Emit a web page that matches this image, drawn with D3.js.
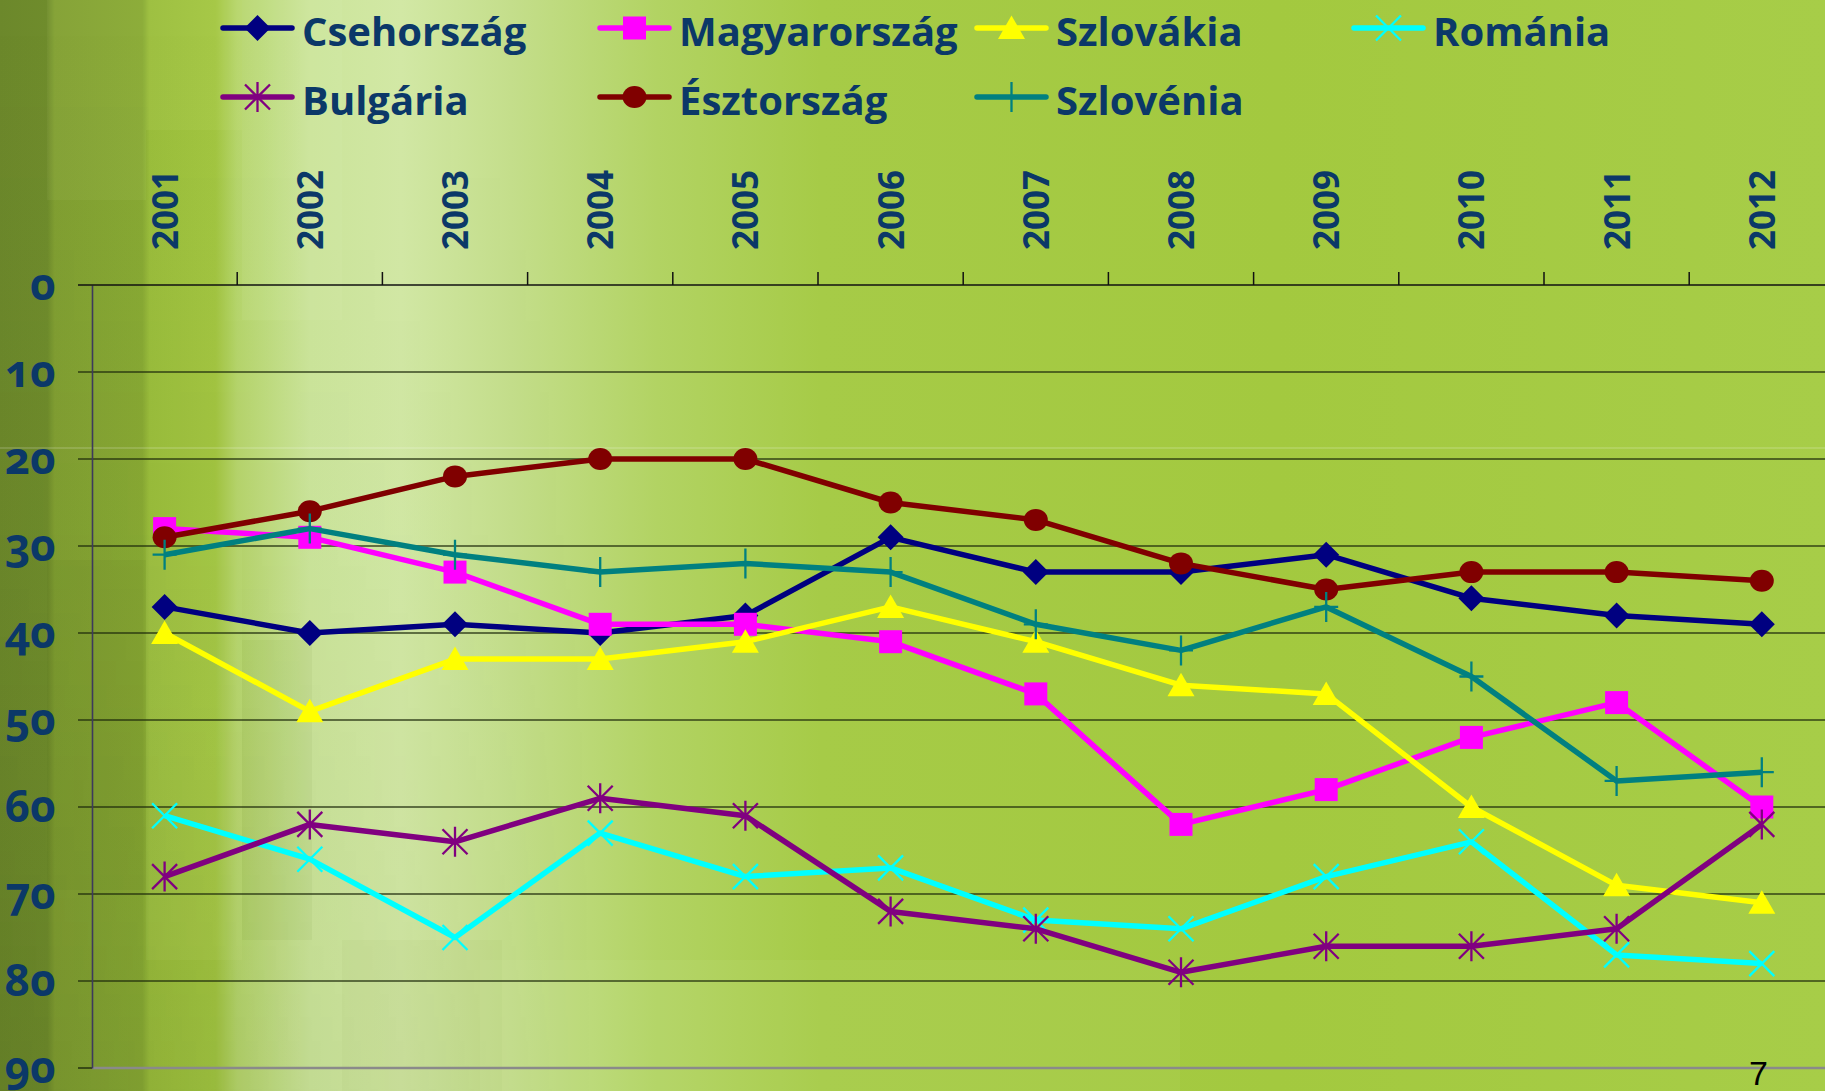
<!DOCTYPE html>
<html>
<head>
<meta charset="utf-8">
<script src="https://cdn.jsdelivr.net/npm/d3@7/dist/d3.min.js"></script>
<style>
  html, body { margin: 0; padding: 0; overflow: hidden; }
  svg { display: block; }
  text { font-family: "Open Sans", "Noto Sans", sans-serif; font-weight: 700; }
  .ylab { font-family: "Noto Sans", "Open Sans", sans-serif; font-variant-numeric: oldstyle-nums; font-feature-settings: "onum" 1; }
  .pagenum { font-family: "Liberation Sans", Arial, sans-serif; font-weight: 400; }
</style>
</head>
<body>
<svg width="1825" height="1091"></svg>
<script>
'use strict';

// categories and ticks
const years = ["2001", "2002", "2003", "2004", "2005", "2006", "2007", "2008", "2009", "2010", "2011", "2012"];
const yTicks = [0, 10, 20, 30, 40, 50, 60, 70, 80, 90];

// series values (rank)
const csehorszag  = [37, 40, 39, 40, 38, 29, 33, 33, 31, 36, 38, 39];
const magyarorszag = [28, 29, 33, 39, 39, 41, 47, 62, 58, 52, 48, 60];
const szlovakia   = [40, 49, 43, 43, 41, 37, 41, 46, 47, 60, 69, 71];
const romania     = [61, 66, 75, 63, 68, 67, 73, 74, 68, 64, 77, 78];
const bulgaria    = [68, 62, 64, 59, 61, 72, 74, 79, 76, 76, 74, 62];
const esztorszag  = [29, 26, 22, 20, 20, 25, 27, 32, 35, 33, 33, 34];
const szlovenia   = [31, 28, 31, 33, 32, 33, 39, 42, 37, 45, 57, 56];

const seriesNames = ["Csehország", "Magyarország", "Szlovákia", "Románia", "Bulgária", "Észtország", "Szlovénia"];
const seriesValues = [csehorszag, magyarorszag, szlovakia, romania, bulgaria, esztorszag, szlovenia];

// styles
const seriesColors = ["#000080", "#ff00ff", "#ffff00", "#00ffff", "#800080", "#800000", "#008080"];
const seriesMarkers = ["diamond", "square", "triangle", "cross", "star", "circle", "plus"];
const textColor = "#0b3868";

class Chart {
  constructor() {
    this.svg = d3.select("svg");
    this.left = 92;
    this.top = 285;
    this.bottom = 1068;
    this.bandW = 145.2;
    this.series = seriesNames.map((name, i) => ({
      name: name,
      color: seriesColors[i],
      marker: seriesMarkers[i],
      values: seriesValues[i].map((v, j) => ({ year: years[j], value: v }))
    }));
  }

  draw() {
    this.drawBackground();
    this.createScales();
    this.drawGrid();
    this.drawAxes();
    this.drawLines();
    this.drawLegend();
    this.drawPageNumber();
  }

  drawBackground() {
    const defs = this.svg.append("defs");
    const g = defs.append("linearGradient").attr("id", "bg").attr("x1", 0).attr("x2", 1).attr("y1", 0).attr("y2", 0);
    [[0, "#6c882b"], [0.026, "#6f8c2c"], [0.03, "#819f32"], [0.078, "#88a934"], [0.082, "#9abd3c"],
     [0.118, "#a2c541"], [0.13, "#b6d56c"], [0.17, "#cce59b"], [0.22, "#d2e8a5"], [0.28, "#c4de8b"],
     [0.36, "#b2d363"], [0.45, "#a6cb47"], [0.7, "#a3c93f"], [1, "#a7cd48"]]
      .forEach(s => g.append("stop").attr("offset", s[0]).attr("stop-color", s[1]));

    const v = defs.append("linearGradient").attr("id", "shade").attr("x1", 0).attr("x2", 0).attr("y1", 0).attr("y2", 1);
    v.append("stop").attr("offset", 0).attr("stop-color", "#2b3a08").attr("stop-opacity", 0);
    v.append("stop").attr("offset", 0.5).attr("stop-color", "#2b3a08").attr("stop-opacity", 0.03);
    v.append("stop").attr("offset", 1).attr("stop-color", "#2b3a08").attr("stop-opacity", 0.12);

    const h = defs.append("linearGradient").attr("id", "fadeR").attr("x1", 0).attr("x2", 1).attr("y1", 0).attr("y2", 0);
    h.append("stop").attr("offset", 0).attr("stop-color", "#fff").attr("stop-opacity", 1);
    h.append("stop").attr("offset", 0.5).attr("stop-color", "#fff").attr("stop-opacity", 0.5);
    h.append("stop").attr("offset", 1).attr("stop-color", "#fff").attr("stop-opacity", 0);
    const mask = defs.append("mask").attr("id", "leftMask");
    mask.append("rect").attr("width", 600).attr("height", 1091).attr("fill", "url(#fadeR)");

    this.svg.append("rect").attr("width", 1825).attr("height", 1091).attr("fill", "url(#bg)");
    this.svg.append("rect").attr("width", 600).attr("height", 1091)
      .attr("fill", "url(#shade)").attr("mask", "url(#leftMask)");

    // blocky checks of the slide background
    const blocks = [
      [47, 0, 99, 200, "#e8ffb0", 0.05], [47, 560, 99, 330, "#3a4d0c", 0.05],
      [146, 0, 96, 130, "#e8ffb0", 0.06], [146, 540, 96, 420, "#e8ffb0", 0.05],
      [242, 0, 100, 320, "#f4ffd8", 0.06], [242, 640, 70, 300, "#5d7a14", 0.06],
      [342, 940, 160, 151, "#5d7a14", 0.04], [480, 960, 700, 131, "#f4ffd8", 0.05]
    ];
    this.svg.append("g").selectAll("rect").data(blocks).join("rect")
      .attr("x", d => d[0]).attr("y", d => d[1]).attr("width", d => d[2]).attr("height", d => d[3])
      .attr("fill", d => d[4]).attr("fill-opacity", d => d[5]);

    // faint light streak across the slide
    this.svg.append("line").attr("x1", 0).attr("x2", 1825).attr("y1", 448).attr("y2", 448)
      .attr("stroke", "#fff").attr("stroke-opacity", 0.3).attr("stroke-width", 1);
  }

  createScales() {
    this.x = d3.scalePoint().domain(years)
      .range([this.left + this.bandW / 2, this.left + this.bandW * (years.length - 0.5)]);
    this.y = d3.scaleLinear().domain([0, 90]).range([this.top, this.bottom]);
  }

  drawGrid() {
    this.svg.append("g").attr("class", "grid")
      .selectAll("line").data(yTicks.slice(1, -1)).join("line")
      .attr("x1", this.left - 14).attr("x2", 1825)
      .attr("y1", d => this.y(d)).attr("y2", d => this.y(d))
      .attr("stroke", "#1e2a0c").attr("stroke-opacity", 0.85).attr("stroke-width", 1.4);
    // bottom border at 90
    this.svg.append("line")
      .attr("x1", this.left).attr("x2", 1825)
      .attr("y1", this.y(90)).attr("y2", this.y(90))
      .attr("stroke", "#8a8a8a").attr("stroke-width", 2.5);
    this.svg.append("line")
      .attr("x1", this.left - 14).attr("x2", this.left)
      .attr("y1", this.y(90)).attr("y2", this.y(90))
      .attr("stroke", "#1e2a0c").attr("stroke-width", 1.4);
  }

  drawAxes() {
    // y axis (reversed rank)
    const yAxis = d3.axisLeft(this.y).tickValues(yTicks).tickSize(0).tickPadding(36);
    const ya = this.svg.append("g").attr("transform", "translate(" + this.left + ",0)").call(yAxis);
    ya.select(".domain").attr("stroke", "#3c3a5c").attr("stroke-width", 1.6);
    ya.selectAll("text").attr("class", "ylab").attr("fill", textColor)
      .attr("font-family", null).attr("font-size", 44)
      .attr("dy", "0.33em");

    // x axis at the top, ticks between categories
    const xa = this.svg.append("g");
    xa.append("line").attr("x1", this.left - 14).attr("x2", 1825)
      .attr("y1", this.top).attr("y2", this.top)
      .attr("stroke", "#111").attr("stroke-width", 1.5);
    xa.selectAll(".tick").data(d3.range(1, years.length + 1)).join("line")
      .attr("class", "tick")
      .attr("x1", i => this.left + i * this.bandW).attr("x2", i => this.left + i * this.bandW)
      .attr("y1", this.top - 13).attr("y2", this.top)
      .attr("stroke", "#111").attr("stroke-width", 1.5);
    xa.selectAll(".year").data(years).join("text")
      .attr("class", "year")
      .attr("transform", d => "translate(" + (this.x(d) + 13) + "," + (this.top - 35) + ") rotate(-90)")
      .attr("fill", textColor).attr("font-size", 35)
      .text(d => d);
  }

  markerPath(type) {
    switch (type) {
      case "diamond": return "M0,-13L13,0L0,13L-13,0Z";
      case "square": return "M-11.5,-11.5H11.5V11.5H-11.5Z";
      case "triangle": return "M0,-12.5L13.5,11L-13.5,11Z";
      case "circle": return "M-12,0A12,11 0 1,0 12,0A12,11 0 1,0 -12,0Z";
      case "cross": return "M-12.5,-12.5L12.5,12.5M-12.5,12.5L12.5,-12.5";
      case "star": return "M-12.5,-12.5L12.5,12.5M-12.5,12.5L12.5,-12.5M0,-15V15";
      case "plus": return "M0,-15V15M-12,0H12";
    }
  }

  drawMarker(sel, s) {
    const open = s.marker === "cross" || s.marker === "star" || s.marker === "plus";
    sel.attr("d", this.markerPath(s.marker))
      .attr("fill", open ? "none" : s.color)
      .attr("stroke", s.color)
      .attr("stroke-width", open ? 2.3 : 0);
  }

  drawLines() {
    const $this = this;
    const line = d3.line()
      .x(d => $this.x(d.year))
      .y(d => $this.y(d.value));

    this.series.forEach(s => {
      const g = this.svg.append("g").attr("class", "series");
      g.append("path").datum(s.values)
        .attr("fill", "none").attr("stroke", s.color)
        .attr("stroke-width", 5.5).attr("stroke-linejoin", "round")
        .attr("d", line);
      g.selectAll(".mark").data(s.values).join("path")
        .attr("class", "mark")
        .attr("transform", d => "translate(" + $this.x(d.year) + "," + $this.y(d.value) + ")")
        .call(sel => $this.drawMarker(sel, s));
    });
  }

  drawLegend() {
    const colX = [223, 600, 977, 1354];
    const rowY = [28, 97];
    // legend fills row by row, 4 per row
    const place = [[0, 0], [1, 0], [2, 0], [3, 0], [0, 1], [1, 1], [2, 1]];
    const lg = this.svg.append("g").attr("class", "legend");
    this.series.forEach((s, i) => {
      const x0 = colX[place[i][0]], y0 = rowY[place[i][1]];
      const item = lg.append("g").attr("transform", "translate(" + x0 + "," + y0 + ")");
      item.append("line").attr("x1", 0).attr("x2", 69).attr("y1", 0).attr("y2", 0)
        .attr("stroke", s.color).attr("stroke-width", 5.5).attr("stroke-linecap", "round");
      item.append("path").attr("transform", "translate(34.5,0)").call(sel => this.drawMarker(sel, s));
      item.append("text").attr("x", 79).attr("y", 18)
        .attr("fill", textColor).attr("font-size", 40)
        .text(s.name);
    });
  }

  drawPageNumber() {
    this.svg.append("text").attr("class", "pagenum")
      .attr("x", 1749).attr("y", 1085)
      .attr("font-size", 34).attr("fill", "#000")
      .text("7");
  }
}

const chart = new Chart();
chart.draw();
</script>
</body>
</html>
